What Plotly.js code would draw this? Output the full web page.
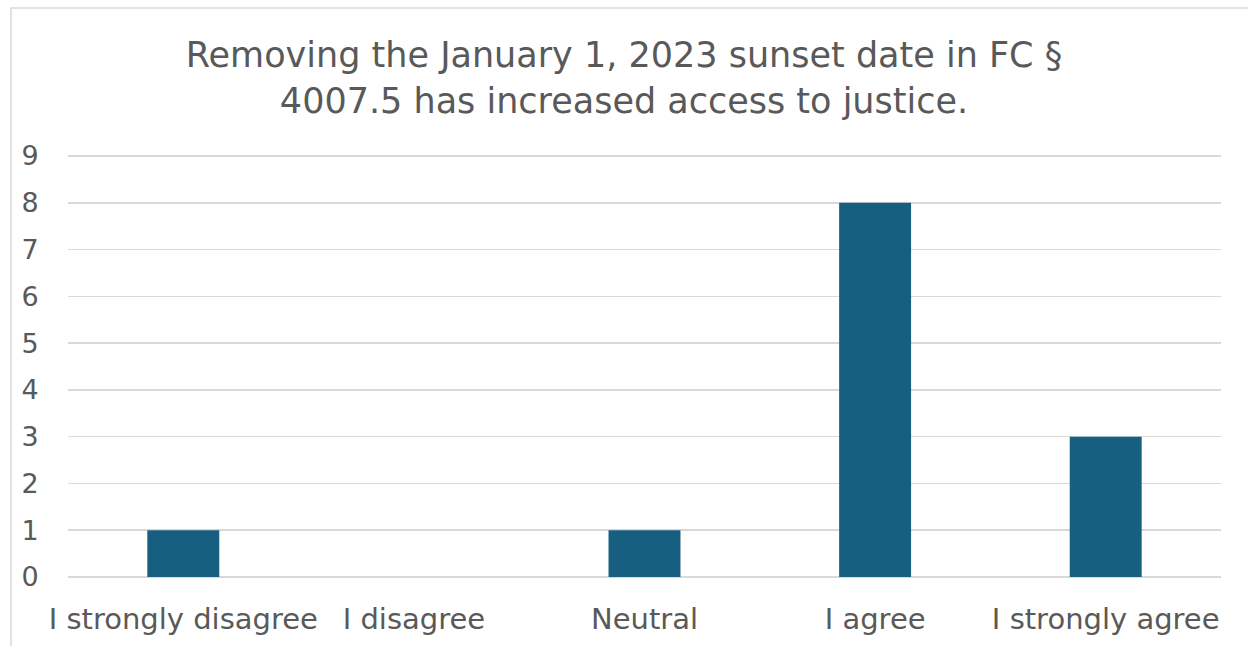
<!DOCTYPE html>
<html>
<head>
<meta charset="utf-8">
<script src="https://cdn.plot.ly/plotly-3.0.1.min.js"></script>
<style>
  html, body { margin: 0; padding: 0; background: #ffffff; }
  #chart { width: 1248px; height: 646px; }
</style>
</head>
<body>
<div id="chart"></div>
<script>
const categories = ["I strongly disagree", "I disagree", "Neutral", "I agree", "I strongly agree"];
const counts = [1, 0, 1, 8, 3];
const yTicks = [0, 1, 2, 3, 4, 5, 6, 7, 8, 9];
const titleText = "Removing the January 1, 2023 sunset date in FC §<br>4007.5 has increased access to justice.";

const textColor = "#595959";
const gridColor = "#d9d9d9";
const barColor = "#175f80";
const fontFamily = "'DejaVu Sans', sans-serif";

const trace = {
  type: "bar",
  x: categories,
  y: counts,
  marker: { color: barColor, line: { width: 0 } },
  hoverinfo: "x+y"
};

const layout = {
  width: 1248,
  height: 646,
  paper_bgcolor: "#ffffff",
  plot_bgcolor: "#ffffff",
  margin: { l: 68, r: 27, t: 153, b: 69 },
  bargap: 0.688,
  showlegend: false,
  font: { family: fontFamily, color: textColor },
  title: {
    text: titleText,
    font: { family: fontFamily, size: 35, color: textColor },
    x: 0.5,
    xanchor: "center",
    y: 1 - 67 / 646,
    yanchor: "middle"
  },
  xaxis: {
    type: "category",
    showgrid: false,
    showline: false,
    zeroline: false,
    ticks: "outside",
    ticklen: 16,
    tickcolor: "rgba(0,0,0,0)",
    tickfont: { family: fontFamily, size: 29, color: textColor }
  },
  yaxis: {
    range: [0, 9.064],
    tickvals: yTicks,
    ticktext: yTicks.map(String),
    showgrid: true,
    gridcolor: gridColor,
    gridwidth: 1.5,
    zeroline: true,
    zerolinecolor: gridColor,
    zerolinewidth: 1.5,
    showline: false,
    ticks: "outside",
    ticklen: 23,
    tickcolor: "rgba(0,0,0,0)",
    tickfont: { family: fontFamily, size: 27, color: textColor }
  },
  shapes: [{
    type: "rect",
    xref: "paper",
    yref: "paper",
    x0: (11 - 68) / 1153,
    x1: 1.2,
    y0: -0.5,
    y1: (577 - 8) / 424,
    line: { color: gridColor, width: 1.5 },
    fillcolor: "rgba(0,0,0,0)",
    layer: "below"
  }]
};

Plotly.newPlot("chart", [trace], layout, { displayModeBar: false, staticPlot: true });
</script>
</body>
</html>
